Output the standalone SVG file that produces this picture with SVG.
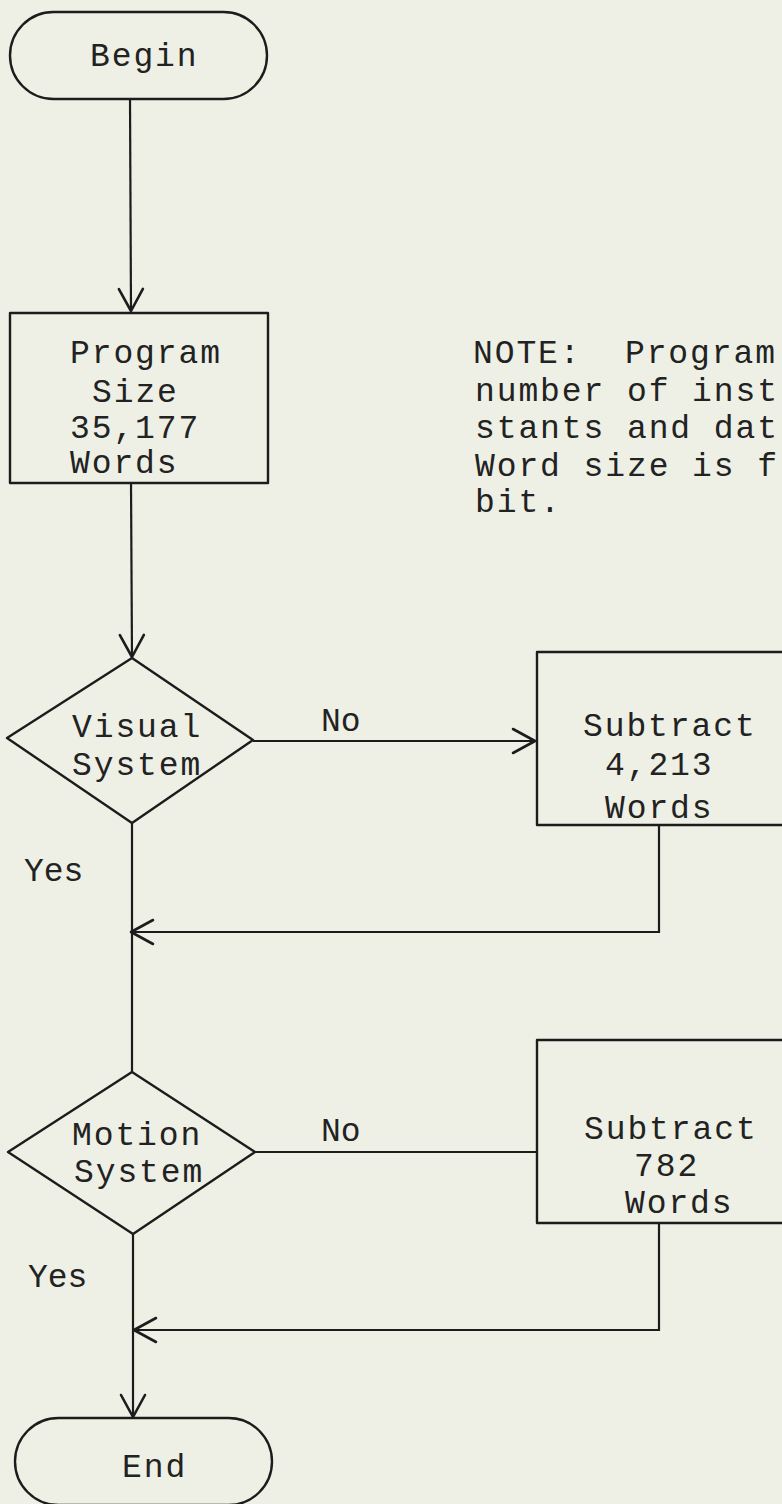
<svg xmlns="http://www.w3.org/2000/svg" width="782" height="1504" viewBox="0 0 782 1504">
<defs>
<style>
.bg{fill:#eef0e5}
.shape{fill:none;stroke:#1c1c1c;stroke-width:2.4;stroke-linejoin:round}
.conn{fill:none;stroke:#1c1c1c;stroke-width:2.2}
.t{font-family:"Liberation Mono","Courier New",monospace;font-size:33px;letter-spacing:1.9px;fill:#222}
.lbl{font-family:"Liberation Mono","Courier New",monospace;font-size:33px;fill:#222}
</style>
<marker id="arr" viewBox="0 0 30 30" refX="24" refY="15" markerWidth="30" markerHeight="30" markerUnits="userSpaceOnUse" orient="auto">
<path d="M2,3 L24,15 L2,27" fill="none" stroke="#1c1c1c" stroke-width="2.6" stroke-linecap="round" stroke-linejoin="round"/>
</marker>
</defs>
<rect class="bg" x="0" y="0" width="782" height="1504"/>

<g id="connectors">
<path class="conn" d="M130,99 L131,311" marker-end="url(#arr)"/>
<path class="conn" d="M131,483 L132,657" marker-end="url(#arr)"/>
<path class="conn" d="M253,741 L535,741" marker-end="url(#arr)"/>
<path class="conn" d="M659,825 L659,932 L131,932" marker-end="url(#arr)"/>
<path class="conn" d="M132,823 L132,1072"/>
<path class="conn" d="M255,1152 L537,1152"/>
<path class="conn" d="M659,1223 L659,1330 L134,1330" marker-end="url(#arr)"/>
<path class="conn" d="M133,1234 L133,1417" marker-end="url(#arr)"/>
</g>

<g id="begin">
<rect class="shape" x="10" y="12" width="257" height="87" rx="43.5" ry="43.5"/>
<text class="t" x="90" y="66">Begin</text>
</g>

<g id="program-size">
<rect class="shape" x="10" y="313" width="258" height="170"/>
<text class="t" x="70" y="363">Program</text>
<text class="t" x="92" y="402">Size</text>
<text class="t" x="70" y="438">35,177</text>
<text class="t" x="70" y="473">Words</text>
</g>

<g id="note">
<text class="t" x="473" y="363" xml:space="preserve">NOTE:  Program</text>
<text class="t" x="475" y="401">number of inst</text>
<text class="t" x="475" y="438">stants and dat</text>
<text class="t" x="475" y="476">Word size is f</text>
<text class="t" x="475" y="512">bit.</text>
</g>

<g id="visual-system">
<polygon class="shape" points="132,658 253,740 132,823 7,738"/>
<text class="t" x="72" y="737">Visual</text>
<text class="t" x="72" y="775">System</text>
</g>

<g id="label-no-1"><text class="lbl" x="321" y="731">No</text></g>
<g id="label-yes-1"><text class="lbl" x="24" y="881">Yes</text></g>

<g id="subtract-4213">
<rect class="shape" x="537" y="652" width="260" height="173"/>
<text class="t" x="583" y="736">Subtract</text>
<text class="t" x="605" y="775">4,213</text>
<text class="t" x="605" y="818">Words</text>
</g>

<g id="motion-system">
<polygon class="shape" points="132,1072 255,1152 133,1234 8,1152"/>
<text class="t" x="72" y="1145">Motion</text>
<text class="t" x="74" y="1182">System</text>
</g>

<g id="label-no-2"><text class="lbl" x="321" y="1141">No</text></g>
<g id="label-yes-2"><text class="lbl" x="28" y="1287">Yes</text></g>

<g id="subtract-782">
<rect class="shape" x="537" y="1040" width="260" height="183"/>
<text class="t" x="584" y="1139">Subtract</text>
<text class="t" x="634" y="1176">782</text>
<text class="t" x="625" y="1213">Words</text>
</g>

<g id="end">
<rect class="shape" x="15" y="1418" width="257" height="87" rx="43.5" ry="43.5"/>
<text class="t" x="122" y="1477">End</text>
</g>
</svg>
